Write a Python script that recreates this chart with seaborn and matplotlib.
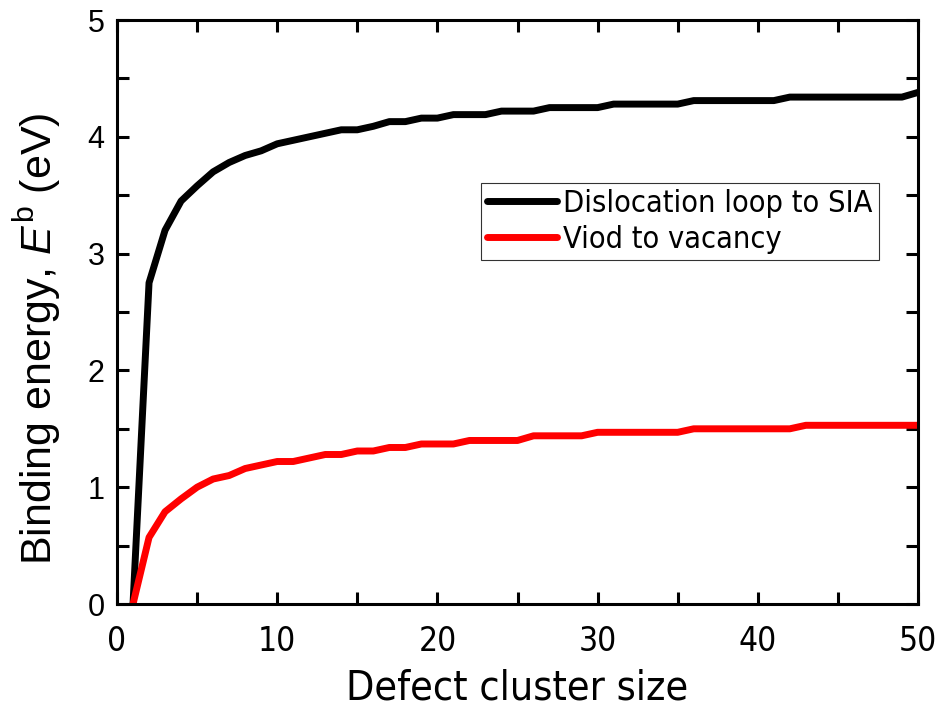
import matplotlib
matplotlib.use("Agg")
import matplotlib.pyplot as plt
import seaborn as sns
import pandas as pd
from matplotlib.ticker import MultipleLocator

cluster_size = list(range(1, 51))
loop_to_sia = [0.00, 2.75, 3.20, 3.45, 3.58, 3.70, 3.78, 3.84, 3.88, 3.94,
               3.97, 4.00, 4.03, 4.06, 4.06, 4.09, 4.13, 4.13, 4.16, 4.16,
               4.19, 4.19, 4.19, 4.22, 4.22, 4.22, 4.25, 4.25, 4.25, 4.25,
               4.28, 4.28, 4.28, 4.28, 4.28, 4.31, 4.31, 4.31, 4.31, 4.31,
               4.31, 4.34, 4.34, 4.34, 4.34, 4.34, 4.34, 4.34, 4.34, 4.38]
void_to_vac = [0.00, 0.57, 0.79, 0.90, 1.00, 1.07, 1.10, 1.16, 1.19, 1.22,
               1.22, 1.25, 1.28, 1.28, 1.31, 1.31, 1.34, 1.34, 1.37, 1.37,
               1.37, 1.40, 1.40, 1.40, 1.40, 1.44, 1.44, 1.44, 1.44, 1.47,
               1.47, 1.47, 1.47, 1.47, 1.47, 1.50, 1.50, 1.50, 1.50, 1.50,
               1.50, 1.50, 1.53, 1.53, 1.53, 1.53, 1.53, 1.53, 1.53, 1.53]
series_names = ["Dislocation loop to SIA", "Viod to vacancy"]
series_colors = ["#000000", "#ff0000"]

df = pd.DataFrame({
    "size": cluster_size * 2,
    "energy": loop_to_sia + void_to_vac,
    "series": [series_names[0]] * 50 + [series_names[1]] * 50,
})

sns.set_style("ticks")
plt.rcParams["font.family"] = ["Liberation Sans", "DejaVu Sans"]
plt.rcParams["mathtext.fontset"] = "custom"
plt.rcParams["mathtext.it"] = "Liberation Sans:italic"
plt.rcParams["mathtext.rm"] = "Liberation Sans"
for k in ["text.color", "axes.labelcolor", "xtick.color", "ytick.color", "axes.edgecolor"]:
    plt.rcParams[k] = "black"

fig = plt.figure(figsize=(9.41, 7.10), dpi=100)
ax = fig.add_axes([117 / 941, 1 - 604 / 710, (918 - 117) / 941, (604 - 20) / 710])

sns.lineplot(data=df, x="size", y="energy", hue="series", palette=series_colors,
             linewidth=5, ax=ax, legend=True)

ax.set_xlim(0, 50)
ax.set_ylim(0, 5)
ax.xaxis.set_major_locator(MultipleLocator(10))
ax.xaxis.set_minor_locator(MultipleLocator(5))
ax.yaxis.set_major_locator(MultipleLocator(1))
ax.yaxis.set_minor_locator(MultipleLocator(0.5))
ax.tick_params(which="both", direction="in", top=True, right=True, width=2.2,
               length=8.6, color="black")
for s in ax.spines.values():
    s.set_linewidth(2.2)
    s.set_color("black")

for lab in ax.get_xticklabels():
    lab.set_fontsize(24)
    lab.set_fontstretch("condensed")
    lab.set_family(["DejaVu Sans"])
for lab in ax.get_yticklabels():
    lab.set_fontsize(22)
ax.tick_params(axis="x", pad=15)
ax.tick_params(axis="y", pad=9)

ax.set_xlabel("Defect cluster size", fontsize=29.5, fontstretch="condensed",
              family=["DejaVu Sans"], va="baseline")
ax.xaxis.set_label_coords(0.5, (604 - 699) / 584)
ax.set_ylabel(r"Binding energy, $\mathit{E}^{\mathrm{b}}$ (eV)", fontsize=31, va="baseline")
ax.yaxis.set_label_coords((52 - 117) / 801, 0.455)

leg = ax.legend(loc="upper left", bbox_to_anchor=(0.4544, 0.7209), frameon=True,
                fancybox=False, edgecolor="black", handlelength=2.3,
                handletextpad=0.2, borderpad=0.2, labelspacing=0.22,
                borderaxespad=0,
                prop={"family": "DejaVu Sans", "size": 22, "stretch": "condensed"})
leg.get_frame().set_linewidth(0.8)
for line in leg.get_lines():
    line.set_linewidth(5)

fig.savefig("out.png", dpi=100)
